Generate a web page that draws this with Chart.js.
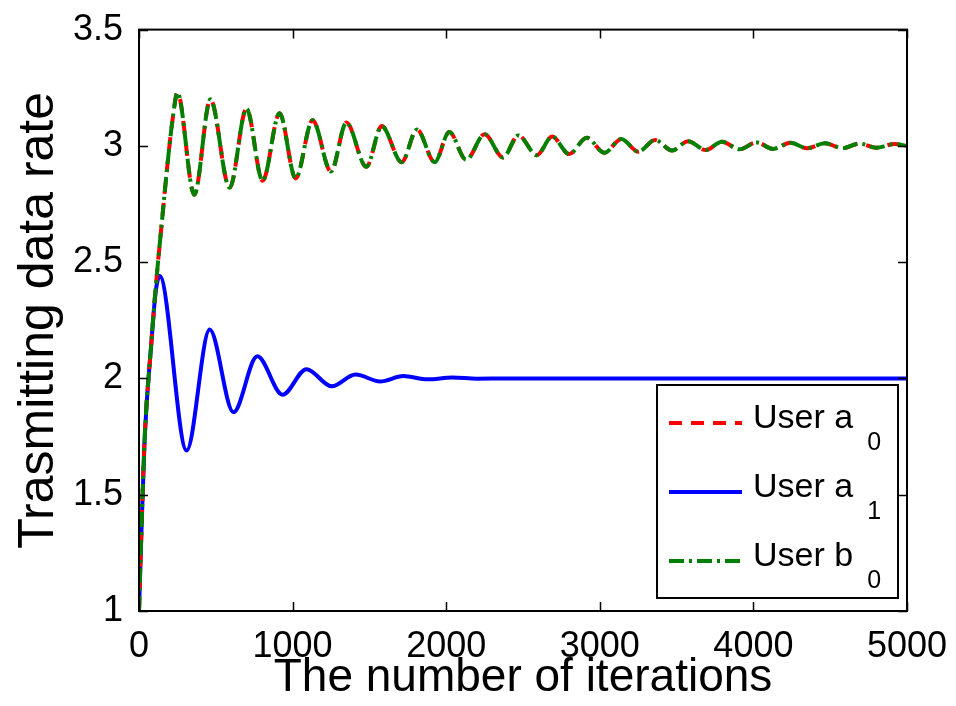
<!DOCTYPE html>
<html>
<head>
<meta charset="utf-8">
<script src="https://cdn.jsdelivr.net/npm/chart.js@4.4.1/dist/chart.umd.min.js"></script>
<style>
  body { margin: 0; background: #fff; }
  canvas { display: block; }
</style>
</head>
<body>
<canvas id="rateChart" width="956" height="706"></canvas>
<script>
// iterations / rate pairs (peaks and troughs)
const iterA0 = [0, 10, 36, 80, 110, 150, 190, 220, 250, 360, 465, 590, 700, 805, 915, 1020, 1130, 1250, 1350, 1480, 1580, 1710, 1810, 1925, 2020, 2130, 2250, 2370, 2470, 2590, 2690, 2800, 2915, 3030, 3140, 3250, 3360, 3470, 3575, 3690, 3795, 3910, 4020, 4130, 4240, 4350, 4465, 4580, 4690, 4800, 4920, 5000];
const rateA0 = [1, 1.22, 1.73, 2.15, 2.4, 2.68, 2.95, 3.12, 3.23, 2.79, 3.20, 2.82, 3.16, 2.85, 3.14, 2.86, 3.11, 2.89, 3.10, 2.91, 3.085, 2.93, 3.07, 2.93, 3.06, 2.94, 3.05, 2.95, 3.045, 2.96, 3.04, 2.965, 3.035, 2.97, 3.03, 2.975, 3.025, 2.98, 3.02, 2.982, 3.018, 2.985, 3.015, 2.987, 3.013, 2.99, 3.011, 2.99, 3.01, 2.992, 3.008, 3.0];

const iterA1 = [0, 10, 36, 80, 110, 135, 310, 460, 615, 770, 935, 1090, 1255, 1410, 1570, 1720, 1880, 2040, 2200, 2400, 5000];
const rateA1 = [1, 1.22, 1.73, 2.15, 2.38, 2.44, 1.69, 2.21, 1.855, 2.095, 1.93, 2.04, 1.966, 2.017, 1.987, 2.01, 1.996, 2.004, 1.999, 2.0, 2.0];

// user b0 lies on top of user a0 in the figure
const iterB0 = iterA0.slice();
const rateB0 = rateA0.slice();

const xTicks = [0, 1000, 2000, 3000, 4000, 5000];
const yTicks = [1, 1.5, 2, 2.5, 3, 3.5];

const toPoints = (xs, ys) => xs.map((x, i) => ({ x: x, y: ys[i] }));

const FONT = '"Liberation Sans", Arial, sans-serif';

// box around the plot with inward ticks on all four sides, matlab style
const boxPlugin = {
    id: 'matlabBox',
    afterDraw(chart) {
        const { ctx, chartArea: a, scales } = chart;
        const len = 9;
        ctx.save();
        ctx.strokeStyle = '#000';
        ctx.lineWidth = 1.5;
        ctx.beginPath();
        xTicks.forEach(v => {
            const px = Math.round(scales.x.getPixelForValue(v)) + 0.5;
            ctx.moveTo(px, a.bottom); ctx.lineTo(px, a.bottom - len);
            ctx.moveTo(px, a.top); ctx.lineTo(px, a.top + len);
        });
        yTicks.forEach(v => {
            const py = Math.round(scales.y.getPixelForValue(v)) + 0.5;
            ctx.moveTo(a.left, py); ctx.lineTo(a.left + len, py);
            ctx.moveTo(a.right, py); ctx.lineTo(a.right - len, py);
        });
        ctx.stroke();
        ctx.lineWidth = 2;
        ctx.strokeRect(a.left, a.top, a.right - a.left, a.bottom - a.top);
        ctx.restore();
    }
};

// legend with subscripts
const legendPlugin = {
    id: 'subLegend',
    afterDraw(chart) {
        const ctx = chart.ctx;
        const box = { x: 657, y: 385, w: 241, h: 213 };
        const names = [['User a', '0'], ['User a', '1'], ['User b', '0']];
        const baselines = [428, 497, 566];
        ctx.save();
        ctx.fillStyle = '#fff';
        ctx.fillRect(box.x, box.y, box.w, box.h);
        ctx.strokeStyle = '#000';
        ctx.lineWidth = 2;
        ctx.strokeRect(box.x, box.y, box.w, box.h);
        chart.data.datasets.forEach((ds, i) => {
            const y = baselines[i] - 5;
            ctx.strokeStyle = ds.borderColor;
            ctx.lineWidth = ds.borderWidth;
            ctx.setLineDash(ds.borderDash || []);
            ctx.beginPath();
            ctx.moveTo(669, y);
            ctx.lineTo(742, y);
            ctx.stroke();
            ctx.setLineDash([]);
            ctx.fillStyle = '#000';
            ctx.textBaseline = 'alphabetic';
            ctx.font = '34px ' + FONT;
            ctx.fillText(names[i][0], 753, baselines[i]);
            const w = ctx.measureText(names[i][0]).width;
            ctx.font = '25px ' + FONT;
            ctx.fillText(names[i][1], 753 + w + 14, baselines[i] + 22);
        });
        ctx.restore();
    }
};

new Chart(document.getElementById('rateChart'), {
    type: 'line',
    data: {
        datasets: [
            { label: 'User a0', data: toPoints(iterA0, rateA0), borderColor: '#ff0000', borderWidth: 4, borderDash: [13, 9], order: 1 },
            { label: 'User a1', data: toPoints(iterA1, rateA1), borderColor: '#0000ff', borderWidth: 4, order: 2 },
            { label: 'User b0', data: toPoints(iterB0, rateB0), borderColor: '#008000', borderWidth: 4, borderDash: [15, 5, 3, 5], order: 0 }
        ]
    },
    options: {
        responsive: false,
        animation: false,
        elements: {
            point: { radius: 0 },
            line: { cubicInterpolationMode: 'monotone', fill: false }
        },
        layout: { padding: { top: 25, right: 49, left: 0, bottom: 0 } },
        plugins: { legend: { display: false }, tooltip: { enabled: false } },
        scales: {
            x: {
                type: 'linear',
                min: 0, max: 5000,
                afterBuildTicks: s => { s.ticks = xTicks.map(v => ({ value: v })); },
                afterFit: s => { s.height = 95; },
                grid: { display: false },
                border: { display: false },
                ticks: { color: '#000', font: { family: FONT, size: 36 }, padding: 6, maxRotation: 0, callback: v => String(v) },
                title: { display: true, text: 'The number of iterations', color: '#000', font: { family: FONT, size: 46 }, padding: { top: 0, bottom: 0 } }
            },
            y: {
                type: 'linear',
                min: 1, max: 3.5,
                afterBuildTicks: s => { s.ticks = yTicks.map(v => ({ value: v })); },
                afterFit: s => { s.width = 139; },
                grid: { display: false },
                border: { display: false },
                ticks: { color: '#000', font: { family: FONT, size: 36 }, padding: 8, callback: v => String(v) },
                title: { display: true, text: 'Trasmitting data rate', color: '#000', font: { family: FONT, size: 50 }, padding: { top: 9, bottom: 0 } }
            }
        }
    },
    plugins: [boxPlugin, legendPlugin]
});
</script>
</body>
</html>
